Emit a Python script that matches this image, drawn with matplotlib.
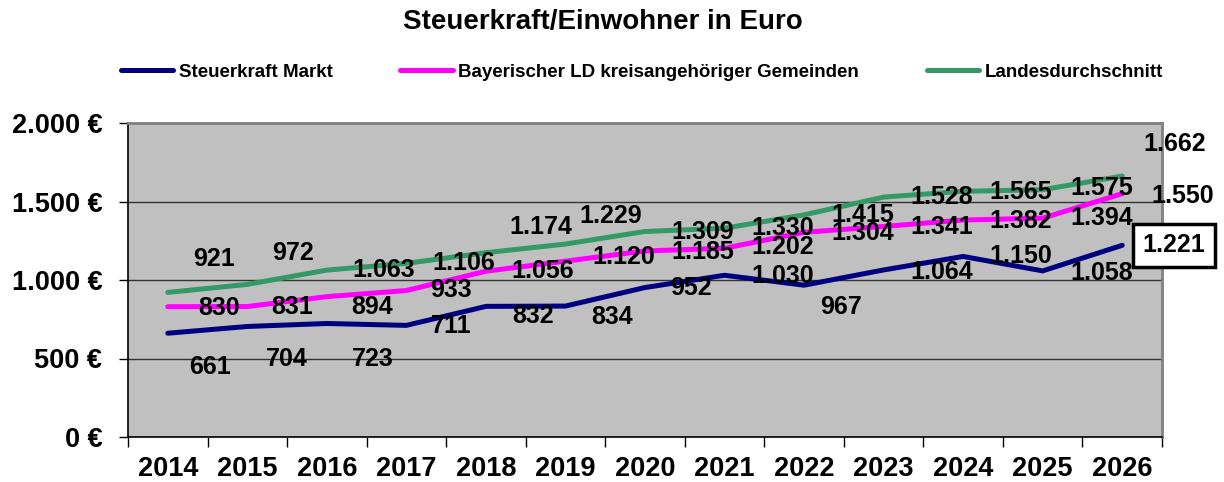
import matplotlib
matplotlib.use('Agg')
import matplotlib.pyplot as plt
from matplotlib.ticker import FixedLocator, FuncFormatter

plt.rcParams['font.family'] = ['Liberation Sans', 'DejaVu Sans']
plt.rcParams['font.weight'] = 'bold'

# ---- data ----
years = [str(y) for y in range(2014, 2027)]
markt = [661, 704, 723, 711, 832, 834, 952, 1030, 967, 1064, 1150, 1058, 1221]
bayern_ld = [830, 831, 894, 933, 1056, 1120, 1185, 1202, 1304, 1341, 1382, 1394, 1550]
landes = [921, 972, 1063, 1106, 1174, 1229, 1309, 1330, 1415, 1528, 1565, 1575, 1662]
series_names = ['Steuerkraft Markt', 'Bayerischer LD kreisangehöriger Gemeinden', 'Landesdurchschnitt']
y_ticks = [0, 500, 1000, 1500, 2000]
title = 'Steuerkraft/Einwohner in Euro'

# ---- label offsets (pixels: right, down) ----
markt_off = [(42, 34), (39, 33), (46, 36), (45, 1), (47, 10), (47, 11), (46, 0),
             (58, 1), (37, 22), (58, 2), (58, 0), (59, 2), (52, 0)]
bayern_off = [(51, 1), (45, 0), (45, 10), (45, -1), (57, 0), (58, -4), (58, 1),
              (58, -1), (59, 1), (58, 1), (58, 1), (59, 0), (60, 2)]
landes_off = [(46, -33), (46, -31), (57, 0), (57, 0), (55, -26), (45, -28), (58, 1),
              (58, 0), (59, 0), (58, 0), (58, 1), (59, -2), (52, -32)]

colors = ['#000080', '#FF00FF', '#339966']


def de(v):
    return f"{v:,}".replace(',', '.')


fig = plt.figure(figsize=(12.24, 4.82), dpi=100)
ax = fig.add_axes([128 / 1224, 1 - 437 / 482, (1162 - 128) / 1224, (437 - 123) / 482])
ax.set_facecolor('#C0C0C0')

x = list(range(len(years)))
handles = []
for vals, col, name in zip([markt, bayern_ld, landes], colors, series_names):
    h, = ax.plot(x, vals, color=col, lw=3.6, solid_capstyle='round',
                 solid_joinstyle='round', zorder=3, label=name)
    handles.append(h)

for vals, offs in zip([markt, bayern_ld, landes], [markt_off, bayern_off, landes_off]):
    for i, (v, (dx, dy)) in enumerate(zip(vals, offs)):
        kw = {}
        if vals is markt and i == len(vals) - 1:
            kw['bbox'] = dict(boxstyle='square,pad=0.38', fc='white', ec='black', lw=2.5)
        ax.annotate(de(v), (i, v), xytext=(dx, -dy), textcoords='offset pixels',
                    ha='center', va='center', fontsize=18, fontweight='bold',
                    color='black', zorder=5, annotation_clip=False, **kw)

ax.set_xlim(-0.5, len(years) - 0.5)
ax.set_ylim(0, 2000)
ax.yaxis.set_major_locator(FixedLocator(y_ticks))
ax.yaxis.set_major_formatter(FuncFormatter(lambda v, p: f"{de(int(v))} €"))
ax.set_xticks(x)
ax.set_xticklabels(years)
ax.xaxis.set_minor_locator(FixedLocator([i - 0.5 for i in range(len(years) + 1)]))
ax.tick_params(axis='x', which='major', length=0, pad=14, labelsize=19.5)
ax.tick_params(axis='x', which='minor', length=7, width=1, color='black')
ax.tick_params(axis='y', which='major', length=6.5, width=1, pad=12, labelsize=19.5)
for lab in ax.get_xticklabels() + ax.get_yticklabels():
    lab.set_fontweight('bold')

ax.grid(axis='y', color='#333333', lw=1.0, zorder=1)
ax.set_axisbelow(True)
ax.spines['left'].set_color('black')
ax.spines['bottom'].set_color('black')
ax.spines['left'].set_linewidth(1.2)
ax.spines['bottom'].set_linewidth(1.2)
ax.spines['top'].set_color('#808080')
ax.spines['right'].set_color('#808080')
ax.spines['top'].set_linewidth(2)
ax.spines['right'].set_linewidth(2)

fig.text(603 / 1224, 1 - 22 / 482, title, ha='center', va='center',
         fontsize=20, fontweight='bold')

fig.legend(handles=handles, loc='center', bbox_to_anchor=(642 / 1224, 1 - 72 / 482),
           ncol=3, frameon=False, handlelength=2.8,
           handletextpad=0.3, columnspacing=3.6, prop={'weight': 'bold', 'size': 13.5})

fig.savefig('out.png', dpi=100)
